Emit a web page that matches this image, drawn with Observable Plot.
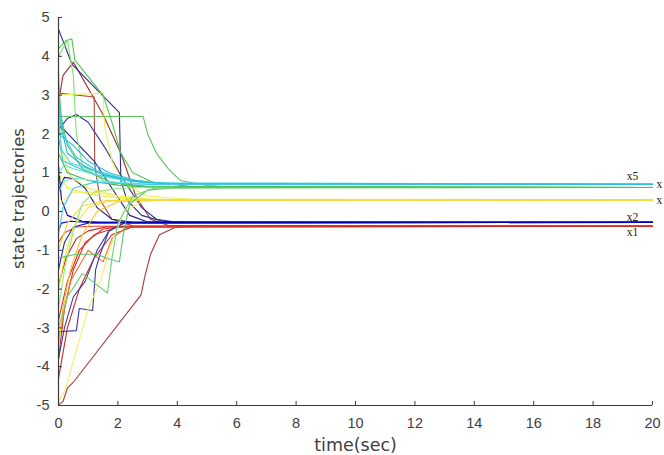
<!DOCTYPE html>
<html>
<head>
<meta charset="utf-8">
<script src="https://cdn.jsdelivr.net/npm/d3@7"></script>
<script src="https://cdn.jsdelivr.net/npm/@observablehq/plot@0.6"></script>
<style>
  html, body { margin: 0; padding: 0; background: #fff; }
  #chart { width: 664px; height: 455px; }
</style>
</head>
<body>
<div id="chart"></div>
<script>
// ---- tick values ----
const xTicks = [0, 2, 4, 6, 8, 10, 12, 14, 16, 18, 20];
const yTicks = [-5, -4, -3, -2, -1, 0, 1, 2, 3, 4, 5];

// ---- states ----
const stateLabels = ["x1", "x2", "x", "x", "x5"];
const finals = [-0.38, -0.28, 0.30, 0.62, 0.70];

// ---- trajectories (t, value), per state ----
const x1Runs = [
  [[0,-4.98],[0.15,-4.9],[0.3,-4.55],[0.5,-4.4],[2.78,-2.15],[2.9,-1.7],[3.1,-1.1],[3.4,-0.6],[3.9,-0.42],[4.5,-0.38]],
  [[0,2.8],[0.15,3.5],[0.5,3.85],[1.5,2.5],[2.1,1.5],[2.6,0.4],[3.1,-0.2],[3.7,-0.36]],
  [[0,3.05],[1.2,2.95],[1.22,1.2],[1.4,0.3],[1.8,-0.2],[2.5,-0.37]],
  [[0,-3.8],[0.2,-2.5],[0.5,-1.5],[0.9,-0.8],[1.5,-0.45],[2.2,-0.38]],
  [[0,-2.8],[0.3,-1.8],[0.7,-1.0],[1.2,-0.6],[2.0,-0.4]],
  [[0,-4.3],[0.3,-3.0],[0.7,-2.0],[1.2,-1.2],[1.8,-0.6],[2.5,-0.39]],
  [[0,-0.8],[0.2,-0.55],[0.6,-0.4],[1.2,-0.38]],
  [[0,-3.3],[0.4,-1.8],[1.0,-1.0],[1.5,-1.3],[1.8,-0.7],[2.3,-0.4]],
  [[0,-1.9],[0.25,-1.2],[0.6,-0.7],[1.0,-0.5],[1.6,-0.4]]
];
const x1Colors = ["#a83a3a", "#9c3030", "#b04840", "#e02828", "#d83020", "#c82a2a", "#e84030", "#f07030", "#d02020"];

const x2Runs = [
  [[0,4.7],[0.45,3.8],[2.05,2.55],[2.1,0.8],[2.3,0.3],[2.8,-0.1],[3.5,-0.25],[4.5,-0.28]],
  [[0,2.1],[0.3,2.4],[0.6,2.5],[1.0,2.3],[1.6,1.6],[2.2,0.8],[2.8,0.1],[3.3,-0.2],[4,-0.28]],
  [[0,2.2],[0.2,2.1],[1.2,1.3],[1.8,0.6],[2.4,-0.1],[3,-0.27]],
  [[0,0.55],[0.2,0.88],[0.5,0.85],[0.9,0.6],[1.3,0.1],[1.8,-0.2],[2.5,-0.28]],
  [[0,-3.1],[0.6,-3.07],[0.7,-2.5],[1.15,-2.55],[1.25,-1.5],[1.4,-1.1],[1.7,-0.5],[2.2,-0.3]],
  [[0,-0.5],[0.1,-0.3],[0.4,-0.25],[1,-0.28]],
  [[0,-1.5],[0.2,-0.8],[0.5,-0.4],[1,-0.3]],
  [[0,-3.8],[0.2,-3.0],[0.5,-2.2],[0.9,-1.8],[1.3,-1.0],[1.7,-0.5],[2.2,-0.3]],
  [[0,1.2],[0.1,0.3],[0.3,-0.1],[0.8,-0.25],[1.4,-0.28]]
];
const x2Colors = ["#2c2c8c", "#30309a", "#22228a", "#1c1c80", "#3838a8", "#1010c8", "#2020b0", "#404098", "#0000b8"];

const x3Runs = [
  [[0,3.0],[1.5,3.05],[1.55,2.2],[1.8,1.3],[2.2,0.7],[3,0.4],[4.5,0.31]],
  [[0,-4.9],[0.23,-4.6],[0.98,-2.55],[1.4,-1.8],[1.8,-0.8],[2.2,0],[2.8,0.25],[3.5,0.3]],
  [[0,1.0],[0.3,0.6],[1,0.45],[2,0.35],[3,0.31]],
  [[0,-2],[0.2,-1.2],[0.5,-0.4],[1,0.1],[1.6,0.25],[2.5,0.3]],
  [[0,0.2],[0.5,0.5],[1.2,0.5],[2,0.4],[3,0.32]],
  [[0,-3.5],[0.15,-2.5],[0.4,-1.5],[0.8,-0.6],[1.3,0],[2,0.25],[3,0.3]],
  [[0,2.6],[0.1,1.6],[0.4,0.9],[1.0,0.6],[2.0,0.4],[3.2,0.31]],
  [[0,-1.0],[0.3,-0.3],[0.8,0.15],[1.6,0.28],[2.6,0.3]]
];
const x3Colors = ["#f0f050", "#f0f070", "#e8e840", "#f4e830", "#f8f060", "#f0c828", "#ecec48", "#f8d840"];

const x4Runs = [
  [[0,4.2],[0.25,4.4],[0.45,4.45],[0.55,3.9],[1.5,3.0],[1.8,2.3],[2.1,1.5],[2.5,1.0],[3.2,0.75],[4.5,0.64]],
  [[0,2.45],[2.85,2.45],[3.0,2.0],[3.3,1.5],[3.7,1.1],[4.1,0.8],[5,0.67],[6,0.63]],
  [[0,4.0],[0.3,4.4],[0.5,3.5],[0.6,2.0],[0.8,1.2],[1.5,0.8],[2.5,0.66],[3.5,0.63]],
  [[0,1.5],[0.3,1.0],[1,0.8],[2,0.68],[3,0.63]],
  [[0,-2.5],[0.2,-1.5],[0.5,-0.5],[0.8,0.2],[1.2,0.5],[2,0.6],[3,0.62]],
  [[0,-1.2],[0.6,-1.1],[1.3,-1.1],[1.6,-1.2],[2.05,-1.3],[2.2,-0.5],[2.4,0.2],[3,0.55],[4,0.62]],
  [[0,-3.0],[0.3,-2.2],[0.8,-1.6],[1.65,-2.1],[1.8,-1.2],[2.0,-0.3],[2.5,0.4],[3.2,0.6]],
  [[0,3.3],[0.1,2.4],[0.3,1.7],[0.8,1.1],[1.8,0.75],[3,0.64]]
];
const x4Colors = ["#50c850", "#60c060", "#80e070", "#40b848", "#90e878", "#58c868", "#70d070", "#48c060"];

const x5Runs = [
  [[0,2.4],[0.1,1.6],[0.4,1.25],[1,1.1],[1.6,0.95],[2.5,0.8],[3.5,0.72],[5,0.70]],
  [[0,1.9],[0.15,1.3],[0.6,1.15],[1.2,0.95],[2,0.85],[3,0.75],[4.5,0.71]],
  [[0,1.0],[0.2,1.2],[0.5,1.1],[1.5,0.9],[2.2,0.8],[3,0.73],[4,0.71]],
  [[0,2.9],[0.08,2.2],[0.3,1.5],[0.8,1.2],[1.5,0.95],[2.5,0.78],[3.5,0.72]],
  [[0,0.5],[0.2,0.8],[0.6,0.85],[1.2,0.8],[2,0.75],[3,0.71]],
  [[0,3.6],[0.05,2.5],[0.2,1.9],[0.6,1.4],[1.3,1.05],[2.2,0.85],[3.2,0.74]],
  [[0,-0.6],[0.15,0.1],[0.5,0.6],[1.2,0.75],[2.2,0.72],[3,0.7]],
  [[0,2.0],[0.5,1.7],[1.0,1.3],[1.7,1.0],[2.6,0.8],[3.6,0.72]]
];
const x5Colors = ["#40d8e8", "#30c8d8", "#58e0f0", "#20b8d0", "#70e8f0", "#38d0e0", "#48c8e8", "#28c0e0"];

// ---- build the table ----
const allRuns = [x1Runs, x2Runs, x3Runs, x4Runs, x5Runs];
const allColors = [x1Colors, x2Colors, x3Colors, x4Colors, x5Colors];
const rows = [];
allRuns.forEach((runs, s) => {
  runs.forEach((run, r) => {
    const id = `s${s}r${r}`;
    const color = allColors[s][r];
    run.forEach(([t, v]) => rows.push({id, t, v, color}));
    rows.push({id, t: 20, v: finals[s], color});
  });
});
const labelRows = stateLabels.map((label, s) => ({label, s, v: finals[s]}));
const labelOffsets = [
  {dx: -20, dy: 6, anchor: "middle"},
  {dx: -20, dy: -5, anchor: "middle"},
  {dx: 4, dy: 0, anchor: "start"},
  {dx: 4, dy: -3, anchor: "start"},
  {dx: -20, dy: -8, anchor: "middle"}
];

const axisColor = "#3a3a3a";
const textColor = "#404040";

const plot = Plot.plot({
  width: 664,
  height: 455,
  marginLeft: 58,
  marginRight: 12,
  marginTop: 17,
  marginBottom: 50,
  style: {background: "#fff", fontFamily: "'Liberation Sans', Arial, sans-serif"},
  x: {domain: [0, 20]},
  y: {domain: [-5, 5]},
  color: {type: "identity"},
  marks: [
    Plot.line(rows, {x: "t", y: "v", z: "id", stroke: "color", strokeWidth: 1.1, curve: "linear"}),
    ...labelRows.map((d, i) => Plot.text([d], {
      x: () => 20, y: "v", text: "label",
      dx: labelOffsets[i].dx, dy: labelOffsets[i].dy, textAnchor: labelOffsets[i].anchor,
      fontFamily: "'Liberation Serif', 'Times New Roman', serif", fontSize: 11.5, fill: "#222"
    })),
    Plot.ruleX([0], {stroke: axisColor, strokeWidth: 1.2}),
    Plot.ruleY([-5], {stroke: axisColor, strokeWidth: 1.2}),
    Plot.ruleX(xTicks, {x: d => d, insetTop: 384, stroke: axisColor}),
    Plot.ruleY(yTicks, {y: d => d, insetRight: 590, stroke: axisColor}),
    Plot.axisX({ticks: xTicks, tickSize: 0, tickPadding: 12, fontSize: 14.5, color: textColor, label: null, tickFormat: d => String(d)}),
    Plot.axisY({ticks: yTicks, tickSize: 0, tickPadding: 9, fontSize: 14.5, color: textColor, label: null, tickFormat: d => String(d)}),
    Plot.text(["time(sec)"], {frameAnchor: "bottom", dy: 40, lineAnchor: "middle", fontSize: 17.5, fontFamily: "'DejaVu Sans', sans-serif", fill: textColor}),
    Plot.text(["state trajectories"], {frameAnchor: "left", dx: -40, dy: -13, rotate: -90, textAnchor: "middle", lineAnchor: "middle", fontSize: 16.5, fontFamily: "'DejaVu Sans', sans-serif", fill: textColor})
  ]
});
document.getElementById("chart").appendChild(plot);
</script>
</body>
</html>
